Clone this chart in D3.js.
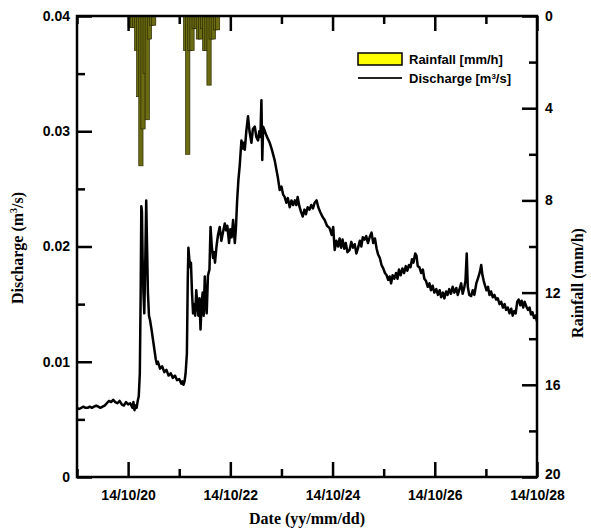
<!DOCTYPE html>
<html><head><meta charset="utf-8">
<script src="https://cdn.jsdelivr.net/npm/d3@7"></script>
<style>body{margin:0;background:#fff}svg{display:block}</style>
</head><body><svg id="c" width="591" height="531"></svg>
<script>
// hours since 2014-10-19 00:00, discharge in m3/s
const dischargeHours = [0,1,2,3,4,5,6,7,8,9,10,11,12,13,14,15,16,17,18,19,20,21,22,23,24,25,26,26.5,27,27.5,28,28.5,29,29.5,29.9,30.2,30.5,30.8,31.2,31.6,32.0,32.5,32.9,33.3,33.8,34.3,35,36,37,37.5,38,39,40,41,42,43,44,45,46,47,48,49,49.5,50,50.5,51,51.6,52.0,52.3,52.7,53.1,53.5,54,54.5,55,55.5,56,56.5,57,57.5,58,58.5,59,59.5,60,60.5,60.9,61.5,62.2,62.7,63.3,63.9,64.4,64.8,65.5,66.2,67,67.8,68.5,69.4,70,70.6,71.4,72,72.6,73.3,74.1,74.6,75.2,75.8,76.4,77.2,77.8,78.3,78.8,79.5,80.3,81,81.9,82.6,83.5,84.2,85,85.6,86.1,86.6,87.0,87.4,88.2,89,90.5,91.5,92.8,93.5,94.3,95.2,96,96.8,97.5,98.3,99,99.9,100.7,101.5,102.3,103,103.6,104.4,105.2,106,106.8,107.5,108.3,109.2,110,110.8,111.6,112.5,113.3,114.2,115.2,116.3,117.4,118.6,119.6,120.3,121,121.8,122.6,123.3,124,124.7,125.5,126.2,127,128,128.8,129.6,130.4,131.2,132,132.8,133.5,134.2,135,135.8,136.6,137.4,138.3,139.1,139.9,140.7,141.4,142.2,143,143.8,144.6,145.4,146.1,146.8,147.5,148.2,149,149.8,150.5,151.2,152,152.8,153.6,154.4,155.1,155.9,156.6,157.3,158,158.8,159.4,160,160.8,161.6,162.4,163.1,163.9,164.7,165.5,166.2,167,167.8,168.7,169.5,170.3,171,171.8,172.5,173.3,174,174.8,175.6,176.4,177.2,178.1,178.8,179.6,180.4,181.1,181.8,182.4,183.0,183.5,184.2,185.1,185.8,186.6,187.5,188.2,189.2,189.8,190.4,191.0,191.6,192.3,193.0,193.7,194.4,195.2,196,196.8,197.6,198.4,199.2,200,200.8,201.5,202.3,203.1,203.9,204.6,205.3,206,206.7,207.4,208.1,208.8,209.5,210.2,211,211.8,212.5,213.2,213.9,214.6,215.3,216];
const dischargeValues = [0.0060,0.0059,0.0060,0.0061,0.0060,0.0060,0.0061,0.0060,0.0061,0.0062,0.0061,0.0060,0.0061,0.0062,0.0064,0.0066,0.0065,0.0067,0.0065,0.0064,0.0066,0.0063,0.0062,0.0065,0.0063,0.0064,0.0060,0.0065,0.0058,0.0062,0.0060,0.0066,0.0070,0.0090,0.0160,0.0235,0.0230,0.0190,0.0160,0.0142,0.0180,0.0240,0.0200,0.0160,0.0140,0.0136,0.0128,0.0115,0.0102,0.0098,0.0100,0.0094,0.0096,0.0091,0.0093,0.0088,0.0090,0.0086,0.0088,0.0084,0.0085,0.0081,0.0083,0.0080,0.0083,0.0090,0.0107,0.0170,0.0199,0.0190,0.0182,0.0186,0.0160,0.0142,0.0150,0.0140,0.0162,0.0150,0.0140,0.0155,0.0128,0.0150,0.0160,0.0140,0.0174,0.0150,0.0142,0.0175,0.0180,0.0217,0.0200,0.0190,0.0195,0.0186,0.0200,0.0210,0.0217,0.0205,0.0212,0.0220,0.0214,0.0218,0.0203,0.0215,0.0208,0.0223,0.0203,0.0215,0.0240,0.0258,0.0270,0.0292,0.0285,0.0290,0.0284,0.0300,0.0313,0.0300,0.0290,0.0302,0.0304,0.0295,0.0292,0.0300,0.0295,0.0327,0.0275,0.0304,0.0300,0.0296,0.0290,0.0284,0.0275,0.0268,0.0260,0.0249,0.0252,0.0245,0.0243,0.0238,0.0242,0.0234,0.0240,0.0236,0.0240,0.0236,0.0243,0.0235,0.0230,0.0226,0.0232,0.0228,0.0234,0.0232,0.0236,0.0233,0.0238,0.0240,0.0234,0.0230,0.0226,0.0223,0.0218,0.0216,0.0210,0.0217,0.0197,0.0205,0.0200,0.0207,0.0199,0.0206,0.0198,0.0203,0.0195,0.0197,0.0204,0.0199,0.0202,0.0194,0.0199,0.0205,0.0200,0.0208,0.0206,0.0209,0.0203,0.0208,0.0212,0.0203,0.0207,0.0198,0.0193,0.0190,0.0184,0.0181,0.0177,0.0175,0.0171,0.0174,0.0168,0.0175,0.0172,0.0177,0.0172,0.0180,0.0175,0.0181,0.0177,0.0183,0.0179,0.0184,0.0182,0.0189,0.0186,0.0194,0.0192,0.0183,0.0182,0.0177,0.0180,0.0172,0.0170,0.0165,0.0168,0.0162,0.0166,0.0160,0.0163,0.0158,0.0162,0.0156,0.0160,0.0155,0.0161,0.0158,0.0163,0.0159,0.0165,0.0160,0.0164,0.0158,0.0163,0.0168,0.0159,0.0164,0.0170,0.0194,0.0165,0.0158,0.0157,0.0162,0.0158,0.0168,0.0172,0.0178,0.0184,0.0175,0.0170,0.0166,0.0162,0.0165,0.0158,0.0161,0.0156,0.0158,0.0154,0.0155,0.0150,0.0152,0.0147,0.0150,0.0145,0.0147,0.0142,0.0146,0.0140,0.0144,0.0142,0.0152,0.0154,0.0149,0.0153,0.0147,0.0152,0.0148,0.0145,0.0147,0.0141,0.0143,0.0138,0.0140,0.0135,0.0132];
// hourly rainfall (mm/h)
const rainHours  = [25,26,27,28,29,30,31,32,33,34,35,36, 51,52,53,54,55,56,57,58,59,60,61,62,63,64,65,66];
const rainValues = [0.5,0.5,0.5,1.5,3.5,6.5,4.9,2.5,4.5,1.0,0.4,0.4, 1.5,6.0,1.5,1.5,0.55,0.55,1.0,1.0,0.55,1.5,1.5,3.0,1.0,1.0,0.6,0.6];
const dischargeTicks = [0,0.01,0.02,0.03,0.04];
const rainTicks = [0,4,8,12,16,20];
const dateStart = Date.UTC(2014,9,19), dateEnd = Date.UTC(2014,9,28);

const svg = d3.select("#c");
const L=77,R=537,T=16,B=477;
const x = d3.scaleUtc().domain([new Date(dateStart), new Date(dateEnd)]).range([L,R]);
const y = d3.scaleLinear().domain([0,0.04]).range([B,T]);
const yR = d3.scaleLinear().domain([0,20]).range([T,B]);
const hd = h => new Date(dateStart + h*3600e3);

const tickFont = "bold 14px 'Liberation Sans', Arial, sans-serif";
const titleFont = "bold 16px 'Liberation Serif', 'Times New Roman', serif";

// rainfall bars
svg.append("g").selectAll("rect").data(rainHours.map((h,i)=>({h,v:rainValues[i]})))
  .join("rect")
  .attr("x", d=>x(hd(d.h-1)))
  .attr("width", d=>x(hd(d.h+1))-x(hd(d.h-1)))
  .attr("y", T)
  .attr("height", d=>yR(d.v)-T)
  .attr("fill","#6b6b12").attr("stroke","#2a2a00").attr("stroke-width",0.7);

// discharge line
const line = d3.line().x(d=>x(hd(d[0]))).y(d=>y(d[1]));
svg.append("path").datum(dischargeHours.map((h,i)=>[h,dischargeValues[i]]))
  .attr("d", line).attr("fill","none").attr("stroke","#000").attr("stroke-width",2.5).attr("stroke-linejoin","round");

function style(g){
  g.select(".domain").remove();
  g.selectAll(".tick line").attr("stroke","#000").attr("stroke-width",2.5);
  g.selectAll(".tick text").style("font", tickFont).attr("fill","#000");
}
const days = d3.utcDay.range(new Date(dateStart), new Date(dateEnd+1));
const majorDays = days.filter(d=>d.getUTCDate()%2===0);
const minorDays = days.filter(d=>d.getUTCDate()%2===1);
const fmt = d3.utcFormat("%y/%m/%d");

// bottom
svg.append("g").attr("transform",`translate(0,${B})`).call(d3.axisBottom(x).tickValues(minorDays).tickSize(-8).tickFormat("")).call(style);
svg.append("g").attr("transform",`translate(0,${B})`).call(d3.axisBottom(x).tickValues(majorDays).tickSize(-15).tickPadding(13).tickFormat(fmt)).call(style);
// top
svg.append("g").attr("transform",`translate(0,${T})`).call(d3.axisTop(x).tickValues(minorDays).tickSize(-8).tickFormat("")).call(style);
svg.append("g").attr("transform",`translate(0,${T})`).call(d3.axisTop(x).tickValues(majorDays).tickSize(-15).tickFormat("")).call(style);
// left
svg.append("g").attr("transform",`translate(${L},0)`).call(d3.axisLeft(y).tickValues([0.005,0.015,0.025,0.035]).tickSize(-8).tickFormat("")).call(style);
svg.append("g").attr("transform",`translate(${L},0)`).call(d3.axisLeft(y).tickValues(dischargeTicks).tickSize(-15).tickPadding(7).tickFormat(d=>d===0?"0":d3.format(".2f")(d))).call(style);
// right
svg.append("g").attr("transform",`translate(${R},0)`).call(d3.axisRight(yR).tickValues([2,6,10,14,18]).tickSize(-8).tickFormat("")).call(style);
const rAx = svg.append("g").attr("transform",`translate(${R},0)`).call(d3.axisRight(yR).tickValues(rainTicks).tickSize(-15).tickPadding(8).tickFormat(d3.format("d"))).call(style);
rAx.selectAll(".tick text").filter(d=>d===20).attr("dy","0.1em");

// frame
svg.append("rect").attr("x",L).attr("y",T).attr("width",R-L).attr("height",B-T)
  .attr("fill","none").attr("stroke","#000").attr("stroke-width",2.5);

// titles
svg.append("text").attr("x",307).attr("y",524).attr("text-anchor","middle").style("font",titleFont).text("Date (yy/mm/dd)");
svg.append("text").attr("transform","translate(23,248) rotate(-90)").attr("text-anchor","middle").style("font",titleFont)
  .html("Discharge (m<tspan dy='-6' font-size='10'>3</tspan><tspan dy='6'>/s)</tspan>");
svg.append("text").attr("transform","translate(583,283) rotate(-90)").attr("text-anchor","middle").style("font",titleFont).text("Rainfall (mm/h)");

// legend
const lg = svg.append("g").style("font","bold 13px 'Liberation Sans', Arial, sans-serif");
lg.append("rect").attr("x",358).attr("y",53).attr("width",44).attr("height",12).attr("fill","#ffff00").attr("stroke","#000").attr("stroke-width",1.5);
lg.append("text").attr("x",409).attr("y",64).text("Rainfall [mm/h]");
lg.append("line").attr("x1",358).attr("x2",402).attr("y1",78).attr("y2",78).attr("stroke","#222").attr("stroke-width",2);
lg.append("text").attr("x",409).attr("y",83).html("Discharge [m<tspan dy='-4' font-size='8'>3</tspan><tspan dy='4'>/s]</tspan>");
</script></body></html>
